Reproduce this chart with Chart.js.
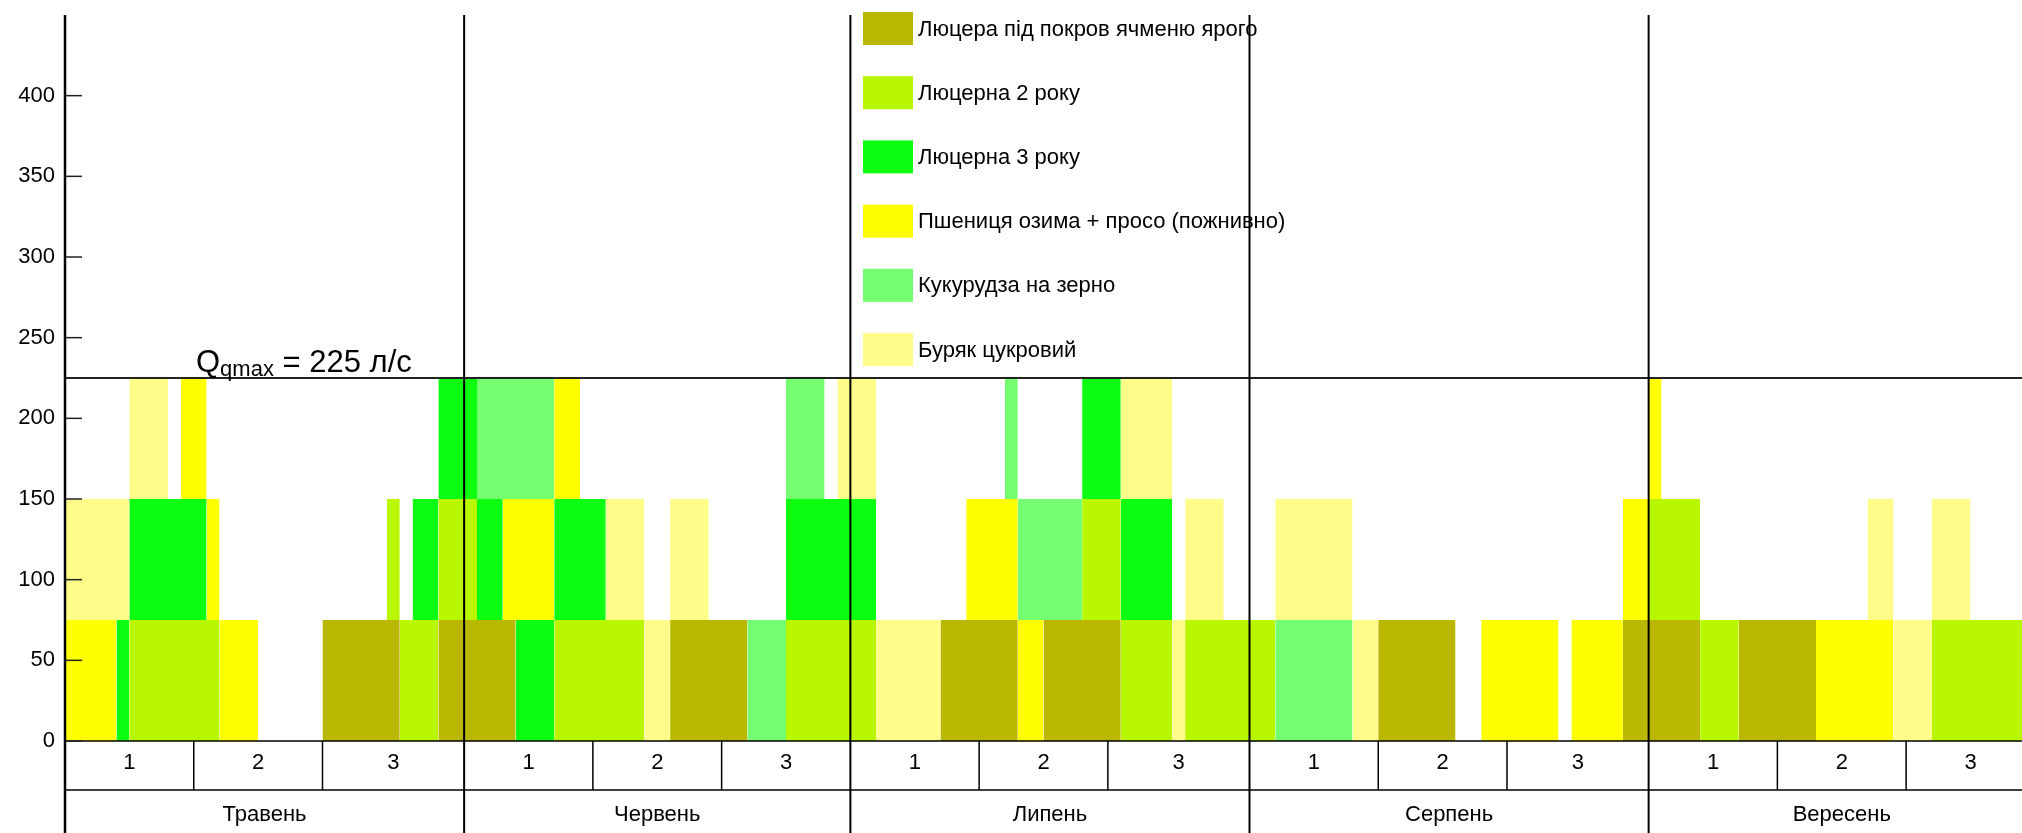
<!DOCTYPE html>
<html>
<head>
<meta charset="utf-8">
<script src="https://cdn.jsdelivr.net/npm/chart.js@4.4.0/dist/chart.umd.min.js"></script>
<style>
html,body{margin:0;padding:0;background:#fff;overflow:hidden;}
#wrap{width:2022px;height:833px;position:relative;}
</style>
</head>
<body>
<div id="wrap"><canvas id="c"></canvas></div>
<script>
// ---- DATA ----
const cropNames = [
  'Люцера під покров ячменю ярого',
  'Люцерна 2 року',
  'Люцерна 3 року',
  'Пшениця озима + просо (пожнивно)',
  'Кукурудза на зерно',
  'Буряк цукровий'
];
const cropColors = ['#BAB700', '#B8F700', '#0CFF10', '#FFFF00', '#73FF6F', '#FFFC8A'];
const cropFlow = [75, 75, 75, 75, 75, 75]; // л/с per crop block

// irrigation periods: [startDay, endDay, baseQ]  (day 0 = 1 May)
const lucernBarley = [[20,26,0],[29,35,0],[47,53,0],[68,74,0],[76,82,0],[102,108,0],[121,127,0],[130,136,0]];
const lucern2 = [[5,12,0],[26,29,0],[38,45,0],[56,63,0],[82,86,0],[87,94,0],[127,130,0],[145,152,0],
                 [25,26,75],[29,32,75],[79,82,75],[123,127,75]];
const lucern3 = [[4,5,0],[35,38,0],
                 [5,11,75],[27,29,75],[32,34,75],[38,42,75],[56,63,75],[82,86,75],
                 [29,32,150],[79,82,150]];
const wheat = [[0,4,0],[12,15,0],[74,76,0],[110,116,0],[117,121,0],[136,142,0],
               [11,12,75],[34,38,75],[70,74,75],[121,123,75],
               [9,11,150],[38,40,150],[123,124,150]];
const corn = [[53,56,0],[94,100,0],
              [74,79,75],
              [32,38,150],[56,59,150],[73,74,150]];
const beet = [[45,47,0],[63,68,0],[86,87,0],[100,102,0],[142,145,0],
              [0,5,75],[42,45,75],[47,50,75],[87,90,75],[94,100,75],[140,142,75],[145,148,75],
              [5,8,150],[60,63,150],[82,86,150]];

const months = ['Травень', 'Червень', 'Липень', 'Серпень', 'Вересень'];
const monthDays = [31, 30, 31, 31, 30];
const decadeLabels = ['1', '2', '3'];
const decadeStarts = [0, 10, 20];
const yTickValues = [0, 50, 100, 150, 200, 250, 300, 350, 400];
const yMax = 450;
const qMax = 225;
const qLabelMain = 'Q';
const qLabelSub = 'qmax';
const qLabelRest = ' = 225 л/с';
const dayMax = 152;

// ---- BUILD ----
const crops = [lucernBarley, lucern2, lucern3, wheat, corn, beet];
const datasets = [];
crops.forEach((rects, ci) => {
  rects.forEach(r => {
    const s = r[0], e = r[1], base = r[2];
    const top = base + cropFlow[ci];
    datasets.push({
      label: cropNames[ci],
      data: [{x: s, y: top}, {x: e, y: top}],
      backgroundColor: cropColors[ci],
      borderColor: 'rgba(0,0,0,0)',
      borderWidth: 0,
      pointRadius: 0,
      pointHoverRadius: 0,
      tension: 0,
      fill: {value: base}
    });
  });
});

const FONT = '"Liberation Sans", Arial, sans-serif';

function hline(ctx, x1, x2, y, w, c) {
  ctx.beginPath(); ctx.lineWidth = w; ctx.strokeStyle = c;
  ctx.moveTo(x1, y); ctx.lineTo(x2, y); ctx.stroke();
}
function vline(ctx, x, y1, y2, w, c) {
  ctx.beginPath(); ctx.lineWidth = w; ctx.strokeStyle = c;
  ctx.moveTo(x, y1); ctx.lineTo(x, y2); ctx.stroke();
}

const overlay = {
  id: 'overlay',
  afterDatasetsDraw(chart) {
    const ctx = chart.ctx, ca = chart.chartArea;
    const xs = chart.scales.x, ys = chart.scales.y;
    const H = chart.height;
    ctx.save();
    const y0 = ys.getPixelForValue(0);
    // Qmax line
    const yq = ys.getPixelForValue(qMax);
    hline(ctx, ca.left, ca.right, yq, 2, '#222');
    // zero line and row line
    hline(ctx, ca.left, ca.right, y0, 1.5, '#000');
    hline(ctx, ca.left, ca.right, y0 + 49, 1.5, '#000');
    // y tick marks (inside)
    yTickValues.forEach(v => {
      const yy = ys.getPixelForValue(v);
      hline(ctx, ca.left, ca.left + 17, yy, 1.5, '#222');
    });
    // decades & months
    ctx.fillStyle = '#000';
    ctx.textAlign = 'center';
    ctx.textBaseline = 'middle';
    ctx.font = '22px ' + FONT;
    let cum = 0;
    months.forEach((m, mi) => {
      const len = monthDays[mi];
      decadeStarts.forEach((ds, di) => {
        const de = di < 2 ? decadeStarts[di + 1] : len;
        if (di > 0) {
          const xx = xs.getPixelForValue(cum + ds);
          vline(ctx, xx, y0, y0 + 49, 1.5, '#000');
        }
        const xc = xs.getPixelForValue(cum + (ds + de) / 2);
        ctx.fillText(decadeLabels[di], xc, y0 + 22);
      });
      ctx.fillText(m, xs.getPixelForValue(cum + len / 2), y0 + 74);
      cum += len;
    });
    // month separators
    cum = 0;
    months.forEach((m, mi) => {
      cum += monthDays[mi];
      if (mi < months.length - 1) {
        vline(ctx, xs.getPixelForValue(cum), ca.top, H, 2, '#000');
      }
    });
    // y axis line
    vline(ctx, ca.left, ca.top, H, 2.5, '#000');
    // Qmax label
    ctx.textAlign = 'left';
    ctx.textBaseline = 'alphabetic';
    let lx = 196, ly = yq - 6;
    ctx.font = '31px ' + FONT;
    ctx.fillText(qLabelMain, lx, ly);
    lx += ctx.measureText(qLabelMain).width;
    ctx.font = '22px ' + FONT;
    ctx.fillText(qLabelSub, lx, ly + 4);
    lx += ctx.measureText(qLabelSub).width;
    ctx.font = '31px ' + FONT;
    ctx.fillText(qLabelRest, lx, ly);
    // legend
    ctx.font = '22px ' + FONT;
    ctx.textBaseline = 'middle';
    cropNames.forEach((n, i) => {
      const cy = 28.5 + i * 64.2;
      ctx.fillStyle = cropColors[i];
      ctx.fillRect(863, cy - 16.5, 50, 33);
      ctx.fillStyle = '#000';
      ctx.fillText(n, 918, cy + 1);
    });
    ctx.restore();
  }
};

new Chart(document.getElementById('c'), {
  type: 'line',
  data: {datasets},
  options: {
    responsive: true,
    maintainAspectRatio: false,
    animation: false,
    devicePixelRatio: 1,
    events: [],
    layout: {padding: {top: 15, bottom: 92, left: 0, right: 0}},
    plugins: {legend: {display: false}, tooltip: {enabled: false}},
    scales: {
      x: {type: 'linear', min: 0, max: dayMax, display: false},
      y: {
        type: 'linear', min: 0, max: yMax,
        grid: {display: false, drawTicks: false},
        border: {display: false},
        ticks: {
          stepSize: 50, padding: 10, color: '#000',
          font: {size: 22, family: FONT},
          callback: v => (v > 400 ? '' : v)
        },
        afterFit(s) { s.width = 65; s.paddingTop = 0; s.paddingBottom = 0; }
      }
    }
  },
  plugins: [overlay]
});
</script>
</body>
</html>
